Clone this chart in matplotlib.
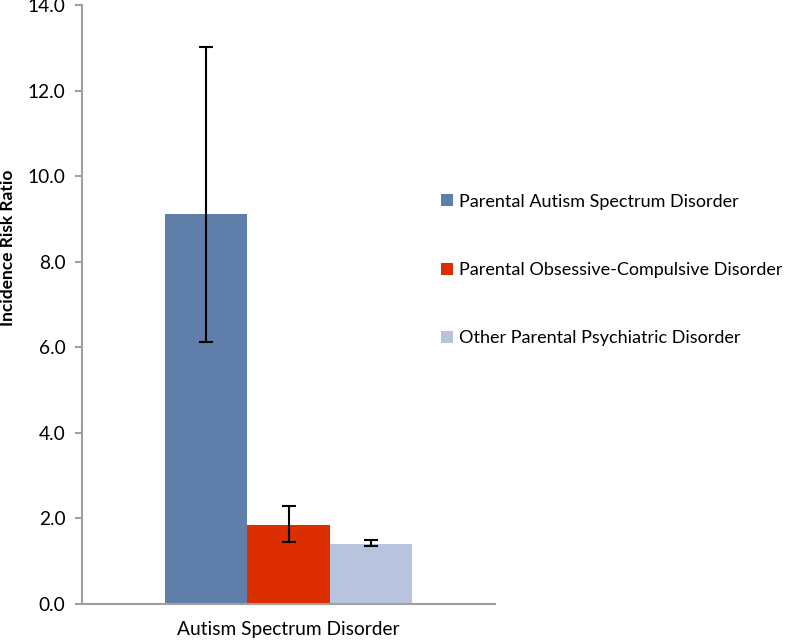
import numpy as np
import matplotlib.pyplot as plt

plt.rcParams['font.family'] = ['Lato', 'DejaVu Sans']

# data
category = "Autism Spectrum Disorder"
series = ["Parental Autism Spectrum Disorder",
          "Parental Obsessive-Compulsive Disorder",
          "Other Parental Psychiatric Disorder"]
irr = [9.12, 1.84, 1.40]
ci_low = [6.12, 1.46, 1.36]
ci_high = [13.02, 2.28, 1.49]
colors = ["#5F7EAA", "#DD2E00", "#B8C4DD"]

fig = plt.figure(figsize=(7.96, 6.42), dpi=100)
ax = fig.add_axes([82/796, 38/642, 413/796, 599/642])

width = 1.0
offsets = np.array([-1, 0, 1]) * width
for i in range(3):
    err = [[irr[i] - ci_low[i]], [ci_high[i] - irr[i]]]
    ax.bar(offsets[i], irr[i], width=width, color=colors[i], label=series[i],
           yerr=err, capsize=5, error_kw=dict(ecolor='black', elinewidth=1.5, capthick=1.5))

ax.set_xlim(-2.51, 2.51)
ax.set_ylim(0, 14)
ax.set_yticks(np.arange(0, 15, 2))
ax.set_yticklabels([f"{v:.1f}" for v in np.arange(0, 15, 2)], fontsize=13.8)
ax.set_xticks([0])
ax.set_xticklabels([category], fontsize=13.8)
ax.tick_params(axis='x', length=0, pad=12)
ax.tick_params(axis='y', direction='out', length=5, width=1.5, color='#A0A0A0', pad=7)
for s in ['top', 'right']:
    ax.spines[s].set_visible(False)
for s in ['left', 'bottom']:
    ax.spines[s].set_color('#A0A0A0')
    ax.spines[s].set_linewidth(1.5)

ax.set_ylabel("Incidence Risk Ratio", fontsize=12.5, fontweight='bold')
ax.yaxis.set_label_coords(-0.16, 0.594)

fig.legend(loc='center left', bbox_to_anchor=(434/796, 1 - 270/642), frameon=False,
           fontsize=13.0, handlelength=0.65, handleheight=0.65, handletextpad=0.35,
           labelspacing=2.9, borderaxespad=0)

fig.savefig("out.png", dpi=100)
